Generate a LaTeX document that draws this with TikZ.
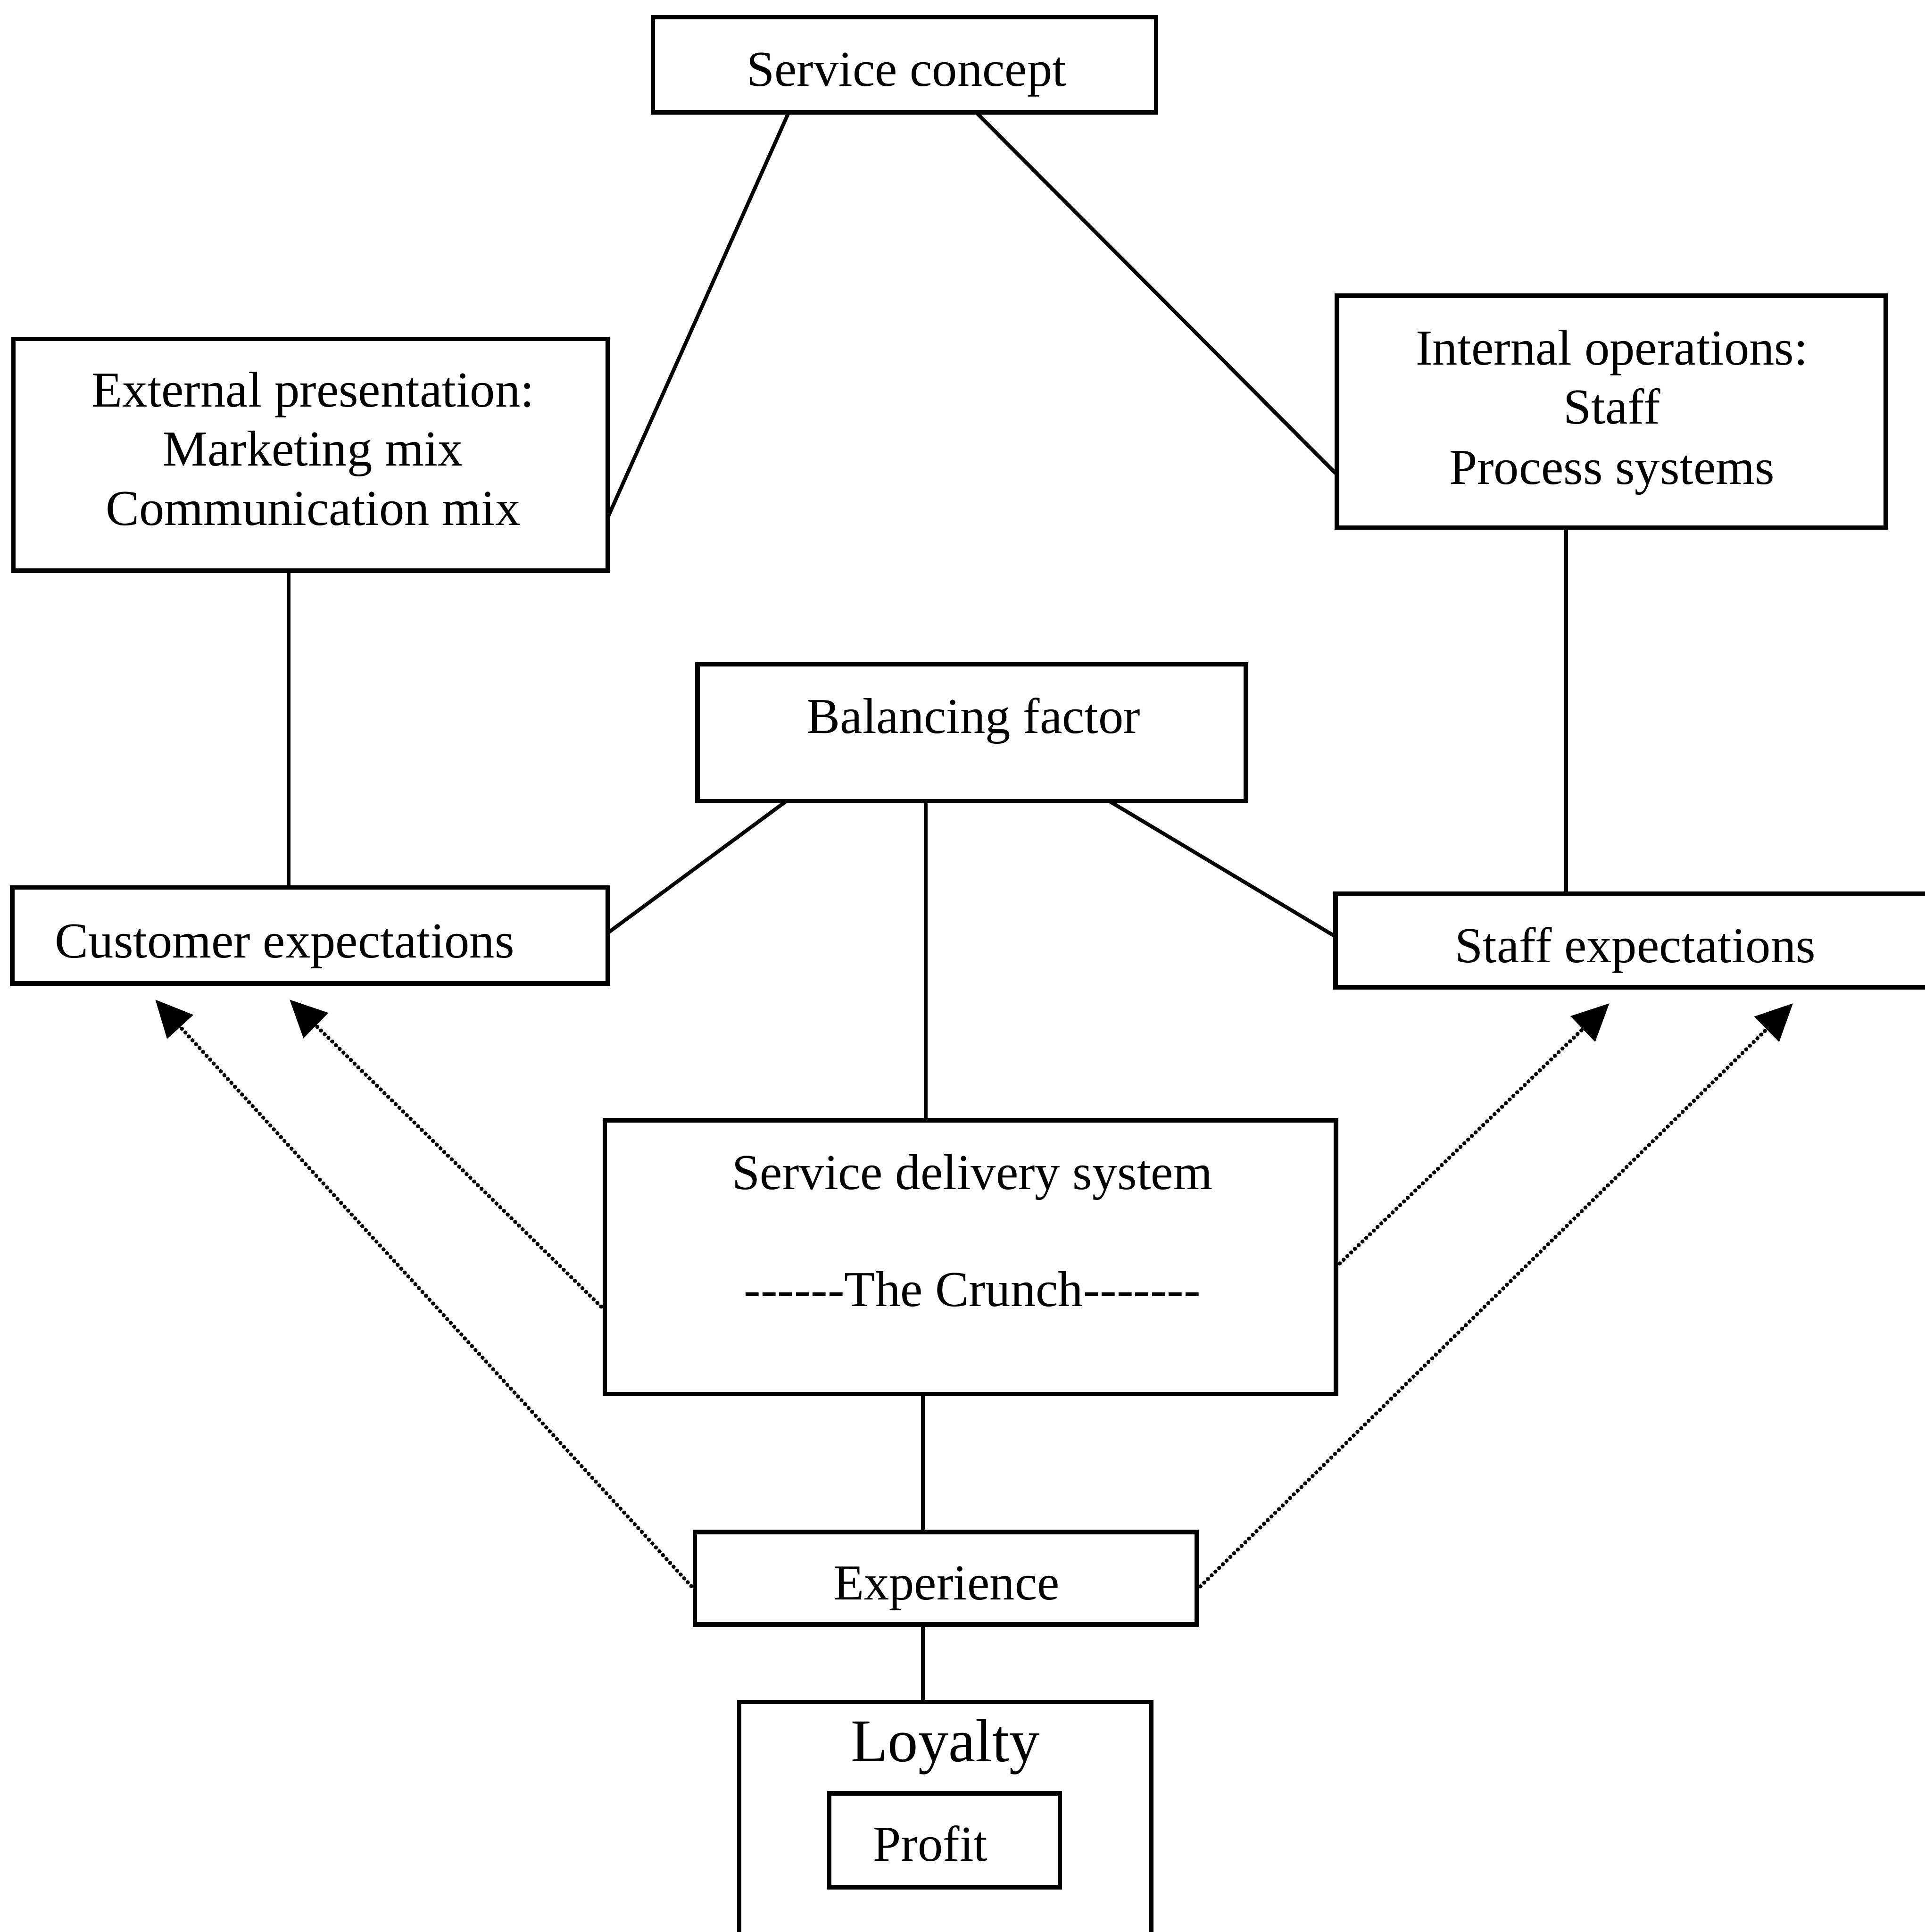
\documentclass[tikz,border=0pt]{standalone}
\usepackage{fontspec}
\setmainfont{Liberation Serif}[Ligatures=TeXOff]
\usetikzlibrary{calc,arrows.meta}
\begin{document}
\begin{tikzpicture}[x=0.01cm,y=-0.01cm,
  box/.style={draw,line width=1.05pt,rectangle,inner sep=0pt,outer sep=0pt},
  txt/.style={inner sep=0pt,anchor=base,font=\fontsize{11.6}{13.7}\selectfont},
  conn/.style={line width=0.85pt},
  feedback/.style={line width=0.95pt,line cap=round,dash pattern=on 0.01pt off 1.2pt,
    -{Triangle[length=0.3cm,width=0.28cm]}}]
\useasboundingbox (0,0) rectangle (1562,1567.5);

% boxes
\node[box,minimum width=4.08cm,minimum height=0.77cm] (sc)    at (734,52.5)   {};
\node[box,minimum width=4.82cm,minimum height=1.88cm] (ext)   at (252,369)    {};
\node[box,minimum width=4.45cm,minimum height=1.88cm] (int)   at (1307.5,334) {};
\node[box,minimum width=4.45cm,minimum height=1.11cm] (bal)   at (788.5,594.5){};
\node[box,minimum width=4.83cm,minimum height=0.78cm] (cust)  at (251.5,759)  {};
\node[box,minimum width=4.91cm,minimum height=0.76cm] (staff) at (1329.5,763) {};
\node[box,minimum width=5.93cm,minimum height=2.22cm] (sds)   at (787.5,1020) {};
\node[box,minimum width=4.07cm,minimum height=0.75cm] (exp)   at (767.5,1280.5){};
\node[box,minimum width=3.34cm,minimum height=1.99cm] (loy)   at (767,1480.5) {};
\node[box,minimum width=1.87cm,minimum height=0.76cm] (prof)  at (766.5,1493) {};

% labels
\node[txt] (sc-t)  at (735.5,70)  {Service concept};
\node[txt] (ext-a) at (254,330)   {External presentation:};
\node[txt] (ext-b) at (254,378)   {Marketing mix};
\node[txt] (ext-c) at (254,426)   {Communication mix};
\node[txt] (int-a) at (1308,296)  {Internal operations:};
\node[txt] (int-b) at (1308,344)  {Staff};
\node[txt] (int-c) at (1308,393)  {Process systems};
\node[txt] (bal-t) at (790,595)   {Balancing factor};
\node[txt] (cust-t) at (231,777)  {Customer expectations};
\node[txt] (staff-t) at (1327,781) {Staff expectations};
\node[txt] (sds-a) at (789,965)   {Service delivery system};
\node[txt] (sds-b) at (789,1060)  {------The Crunch-------};
\node[txt] (exp-t) at (768,1298)  {Experience};
\node[txt,font=\fontsize{14}{16}\selectfont] (loy-t) at (767,1429) {Loyalty};
\node[txt] (prof-t) at (755,1510) {Profit};

% solid connectors
\draw[conn] ($(sc.south west)!0.27!(sc.south east)$) -- ($(ext.north east)!0.771!(ext.south east)$);
\draw[conn] ($(sc.south west)!0.642!(sc.south east)$) -- ($(int.north west)!0.771!(int.south west)$);
\coordinate (ecx) at ($(ext.south west)!0.463!(ext.south east)$);
\draw[conn] (ecx) -- (ecx |- cust.north);
\coordinate (icx) at ($(int.south west)!0.418!(int.south east)$);
\draw[conn] (icx) -- (icx |- staff.north);
\draw[conn] ($(bal.south west)!0.162!(bal.south east)$) -- ($(cust.north east)!0.474!(cust.south east)$);
\coordinate (bcx) at ($(bal.south west)!0.416!(bal.south east)$);
\draw[conn] (bcx) -- (bcx |- sds.north);
\draw[conn] ($(bal.south west)!0.751!(bal.south east)$) -- ($(staff.north west)!0.46!(staff.south west)$);
\coordinate (scx) at ($(sds.south west)!0.435!(sds.south east)$);
\draw[conn] (scx) -- (scx |- exp.north);
\draw[conn] (scx |- exp.south) -- (scx |- loy.north);

% feedback arrows
\coordinate (t1) at (126,811);
\coordinate (t2) at (235,811);
\coordinate (t3) at (1306,814);
\coordinate (t4) at (1455,814);
\draw[feedback] ($(exp.north west)!0.627!(exp.south west)$) -- (t1);
\draw[feedback] ($(sds.north west)!0.694!(sds.south west)$) -- (t2);
\draw[feedback] ($(sds.north east)!0.536!(sds.south east)$) -- (t3);
\draw[feedback] ($(exp.north east)!0.627!(exp.south east)$) -- (t4);
\end{tikzpicture}
\end{document}
